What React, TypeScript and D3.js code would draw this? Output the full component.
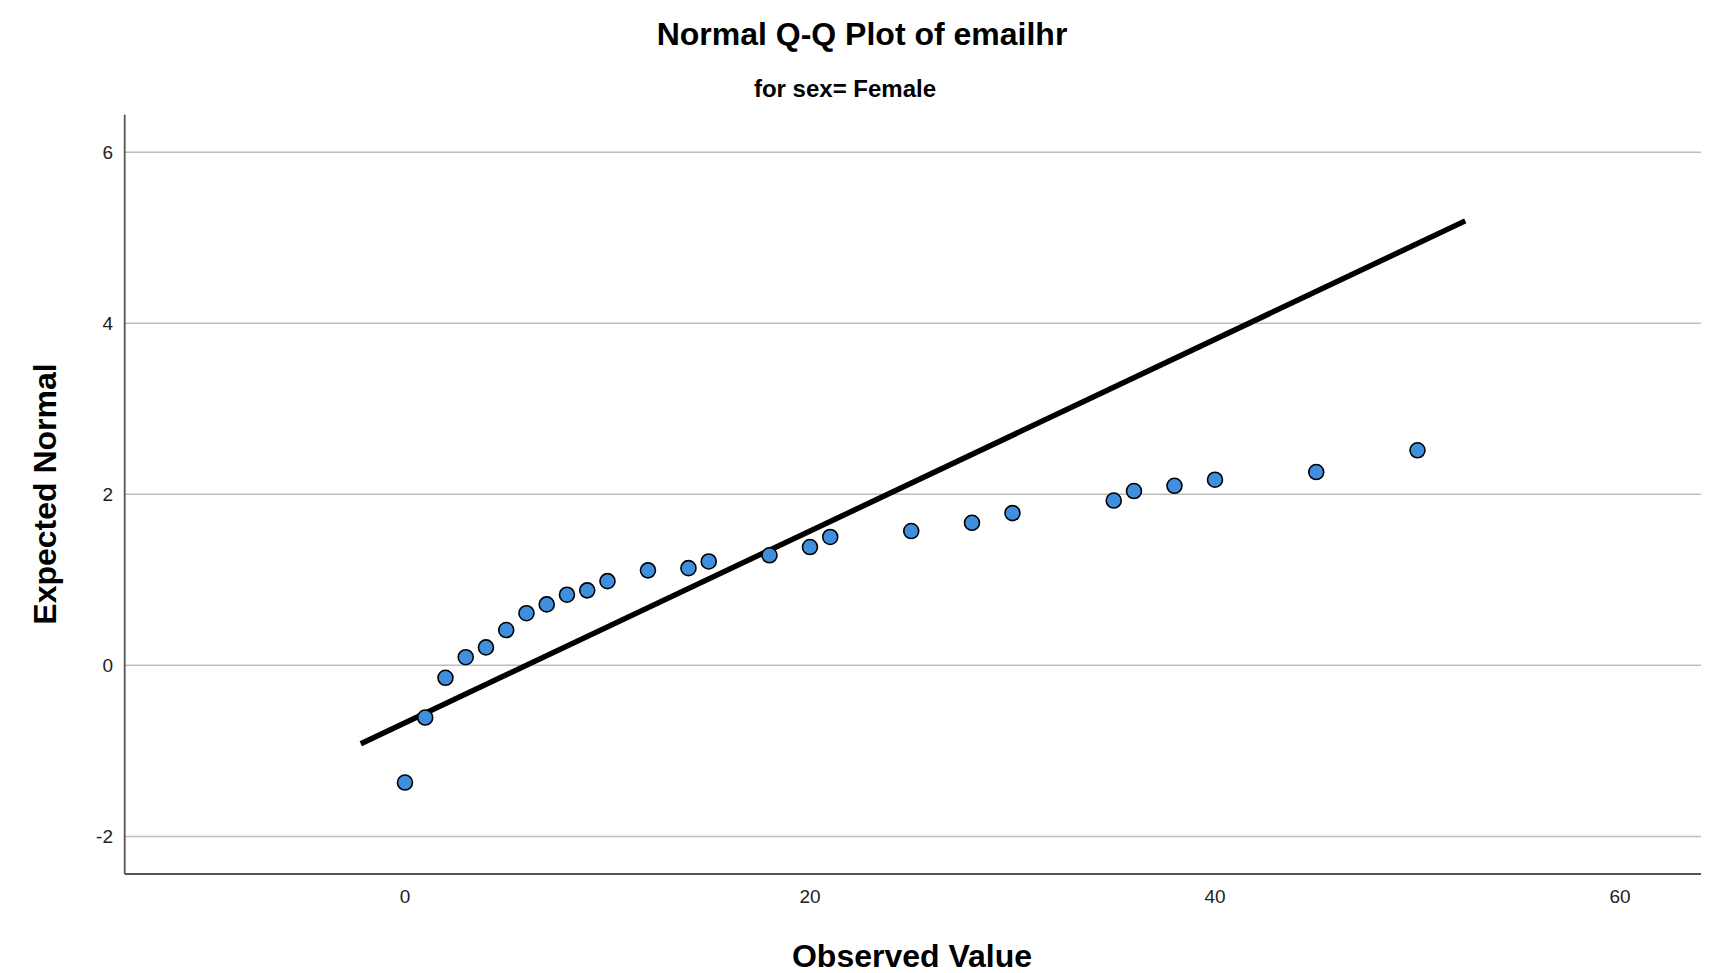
import React from "react";
import * as d3 from "d3";

const observed = [0, 1, 2, 3, 4, 5, 6, 7, 8, 9, 10, 12, 14, 15, 18, 20, 21, 25, 28, 30, 35, 36, 38, 40, 45, 50];
const expected = [-1.37, -0.61, -0.145, 0.095, 0.21, 0.413, 0.61, 0.713, 0.826, 0.877, 0.985, 1.111, 1.137, 1.215, 1.287, 1.384, 1.502, 1.571, 1.667, 1.781, 1.928, 2.039, 2.1, 2.171, 2.261, 2.515];
const lineX = [-2.18, 52.36];
const lineMean = 5.99;
const lineSd = 8.92;
const xTicks = [0, 20, 40, 60];
const yTicks = [-2, 0, 2, 4, 6];

const W = 1730;
const H = 973;
const left = 124.7;
const right = 1701;
const top = 114.7;
const bottom = 874;

export default function App() {
  const x = d3.scaleLinear().domain([-13.84, 64]).range([left, right]);
  const y = d3.scaleLinear().domain([-2.44, 6.44]).range([bottom, top]);
  const line = d3
    .line<number>()
    .x((d) => x(d))
    .y((d) => y((d - lineMean) / lineSd));
  const font = "'Liberation Sans', Arial, sans-serif";
  return (
    <svg
      width={W}
      height={H}
      style={{ position: "absolute", left: 0, top: 0, background: "#fff" }}
      fontFamily={font}
    >
      <text x={862} y={44.5} textAnchor="middle" fontSize={32} fontWeight="bold" fill="#000">
        Normal Q-Q Plot of emailhr
      </text>
      <text x={845} y={96.5} textAnchor="middle" fontSize={24} fontWeight="bold" fill="#000">
        for sex= Female
      </text>
      {yTicks.map((t) => (
        <g key={t}>
          <line x1={left} x2={right} y1={y(t)} y2={y(t)} stroke="#bdbdbd" strokeWidth={1.5} />
          <text x={113} y={y(t)} dy="0.35em" textAnchor="end" fontSize={19} fill="#222">
            {t}
          </text>
        </g>
      ))}
      {xTicks.map((t) => (
        <text key={t} x={x(t)} y={896} dy="0.35em" textAnchor="middle" fontSize={19} fill="#222">
          {t}
        </text>
      ))}
      <line x1={left} x2={left} y1={top} y2={bottom} stroke="#555" strokeWidth={1.8} />
      <line x1={left} x2={right} y1={bottom} y2={bottom} stroke="#555" strokeWidth={1.8} />
      <path d={line(lineX) || ""} fill="none" stroke="#000" strokeWidth={5.5} />
      {observed.map((o, i) => (
        <circle key={i} cx={x(o)} cy={y(expected[i])} r={7.5} fill="#3f8fdf" stroke="#000" strokeWidth={1.6} />
      ))}
      <text
        transform={`translate(55.5, 494) rotate(-90)`}
        textAnchor="middle"
        fontSize={32}
        fontWeight="bold"
        fill="#000"
      >
        Expected Normal
      </text>
      <text x={912} y={967} textAnchor="middle" fontSize={32} fontWeight="bold" fill="#000">
        Observed Value
      </text>
    </svg>
  );
}
